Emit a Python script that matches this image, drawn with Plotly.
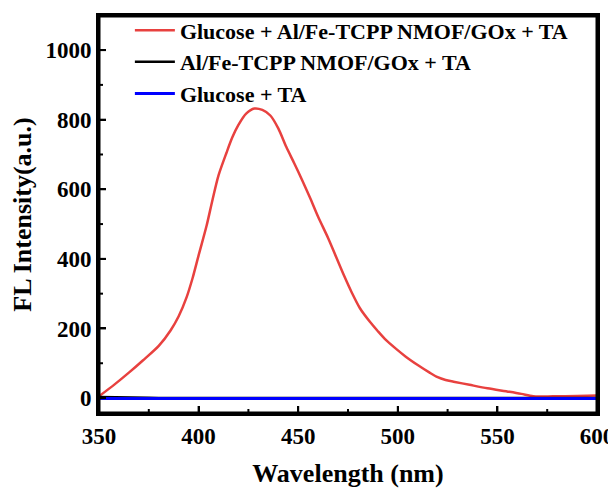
import plotly.graph_objects as go

wavelength_red = [350, 358, 365, 372, 380, 386, 390, 394, 397, 400, 404, 407, 410, 414, 417, 420, 424, 428, 432, 436, 440, 444, 448, 452, 456, 460, 465, 469, 473, 477, 481, 486, 490, 494, 499, 504, 510, 516, 520, 524, 528, 536, 545, 556, 562, 568, 578, 590, 600]
intensity_red = [5, 40, 73, 108, 150, 195, 235, 290, 345, 410, 495, 570, 640, 705, 750, 785, 818, 832, 828, 812, 775, 722, 675, 626, 575, 521, 460, 406, 352, 302, 258, 219, 192, 167, 142, 119, 95, 73, 60, 52, 47, 38, 28, 18, 12, 5, 5, 6, 7]

wavelength_black = [350, 360, 370, 375, 380, 450, 500, 550, 600]
intensity_black = [3, 3, 2, 1, 0, 0, 0, 0, 0]

wavelength_blue = [350, 400, 450, 500, 550, 600]
intensity_blue = [-1, -1, -1, -1, -1, -1]

names = ["Glucose + Al/Fe-TCPP NMOF/GOx + TA", "Al/Fe-TCPP NMOF/GOx + TA", "Glucose + TA"]

x_major = [350, 400, 450, 500, 550, 600]
x_minor = [375, 425, 475, 525, 575]
y_major = [0, 200, 400, 600, 800, 1000]
y_minor = [100, 300, 500, 700, 900]

x_range = [350, 600]
y_range = [-43, 1098]

font_family = "Liberation Serif, Times New Roman, serif"

fig = go.Figure()
fig.add_trace(go.Scatter(x=wavelength_red, y=intensity_red, mode="lines", name=names[0],
                         line=dict(color="#E8413F", width=2.5, shape="spline", smoothing=0.8)))
fig.add_trace(go.Scatter(x=wavelength_black, y=intensity_black, mode="lines", name=names[1],
                         line=dict(color="#000000", width=2.5)))
fig.add_trace(go.Scatter(x=wavelength_blue, y=intensity_blue, mode="lines", name=names[2],
                         line=dict(color="#0000FF", width=3)))

tick_font = dict(family=font_family, size=23, color="black", weight="bold")
title_font = dict(family=font_family, size=26, color="black", weight="bold")

# Page body keeps its default 8px margin: figure sized so the page fits the window exactly.
fig.update_layout(
    template="none",
    width=608, height=480,
    margin=dict(l=91, r=19, t=8, b=75, autoexpand=False),
    paper_bgcolor="white", plot_bgcolor="white",
    showlegend=True,
    xaxis=dict(range=x_range, tickmode="array", tickvals=x_major, automargin=False,
               showline=True, linecolor="#000000", linewidth=3, mirror=True,
               ticks="inside", tickcolor="#000000", tickwidth=2, ticklen=7,
               showgrid=False, zeroline=False, tickfont=tick_font,
               title=dict(text="Wavelength (nm)", font=title_font, standoff=23)),
    yaxis=dict(range=y_range, tickmode="array", tickvals=y_major, automargin=False,
               showline=True, linecolor="#000000", linewidth=3, mirror=True,
               ticks="inside", tickcolor="#000000", tickwidth=2, ticklen=7,
               showgrid=False, zeroline=False, tickfont=tick_font,
               title=dict(text="FL Intensity(a.u.)", font=title_font, standoff=7)),
    legend=dict(x=0.062, y=0.997, xanchor="left", yanchor="top", yref="container",
                bgcolor="rgba(0,0,0,0)", borderwidth=0,
                font=dict(family=font_family, size=22, color="black", weight="bold"),
                itemwidth=40, tracegroupgap=0),
)

# Frame and tick marks also as layout shapes (anchored to the axes' own scales).
frame_line = dict(color="#000000", width=3)
tick_line = dict(color="#000000", width=2)
fig.add_shape(type="rect", xref="paper", yref="paper", x0=0, x1=1, y0=0, y1=1,
              line=frame_line, fillcolor="rgba(0,0,0,0)", layer="above")
for v, ln in [(v, 7) for v in x_major] + [(v, 4) for v in x_minor]:
    fig.add_shape(type="line", xref="x", yref="paper", x0=v, x1=v,
                  ysizemode="pixel", yanchor=0, y0=0, y1=ln, line=tick_line, layer="above")
for v, ln in [(v, 7) for v in y_major] + [(v, 4) for v in y_minor]:
    fig.add_shape(type="line", yref="y", xref="paper", y0=v, y1=v,
                  xsizemode="pixel", xanchor=0, x0=0, x1=ln, line=tick_line, layer="above")

fig.write_html("out.html", config={"displayModeBar": False})
